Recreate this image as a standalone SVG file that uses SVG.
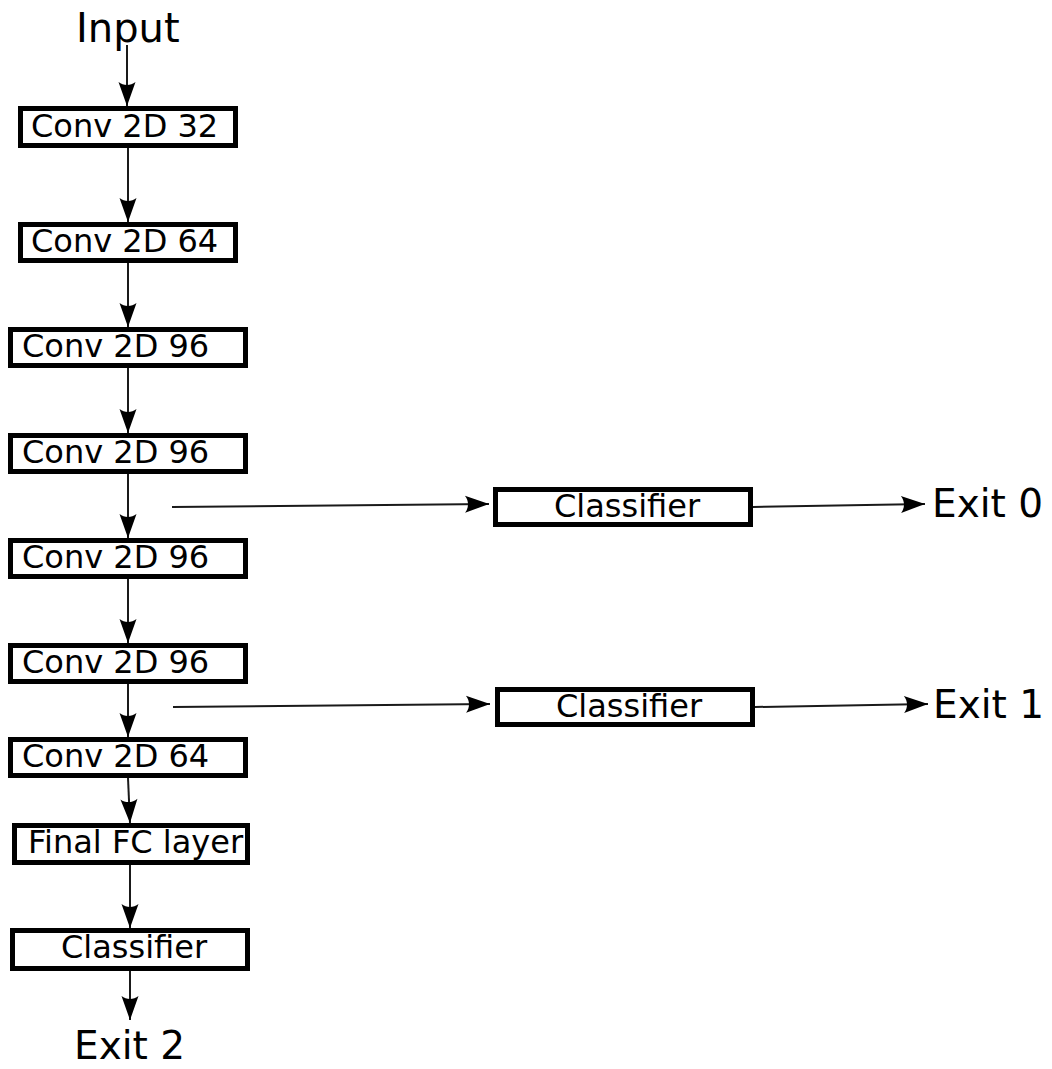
<svg xmlns="http://www.w3.org/2000/svg" width="1052" height="1069" viewBox="0 0 1052 1069">
  <style>
    .box { fill: #ffffff; stroke: #000000; stroke-width: 5; }
    .lbl { font-family: "DejaVu Sans", "Liberation Sans", sans-serif; font-size: 32px; fill: #000000; }
    .big { font-family: "DejaVu Sans", "Liberation Sans", sans-serif; font-size: 39px; fill: #000000; }
    .wire { fill: none; stroke: #1a1a1a; stroke-width: 2; marker-end: url(#head); }
  </style>
  <defs>
    <marker id="head" markerUnits="userSpaceOnUse" markerWidth="30" markerHeight="20" refX="0" refY="0" viewBox="-26 -10 28 20" orient="auto" overflow="visible">
      <path d="M0,0 L-24,-8.5 C-20,-3.5 -20,3.5 -24,8.5 Z" fill="#000000"/>
    </marker>
  </defs>

  <!-- terminal labels -->
  <text class="big" x="76" y="42" style="font-size:40px">Input</text>
  <text class="big" x="74" y="1059">Exit 2</text>
  <text class="big" x="932" y="517">Exit 0</text>
  <text class="big" x="933" y="718">Exit 1</text>

  <!-- layer stack -->
  <g id="conv1"><rect class="box" x="20.5" y="108.5" width="215" height="37"/><text class="lbl" x="31" y="137">Conv 2D 32</text></g>
  <g id="conv2"><rect class="box" x="20.5" y="224.5" width="215" height="36"/><text class="lbl" x="31" y="252">Conv 2D 64</text></g>
  <g id="conv3"><rect class="box" x="10.5" y="329.5" width="235" height="36"/><text class="lbl" x="22" y="357">Conv 2D 96</text></g>
  <g id="conv4"><rect class="box" x="10.5" y="435.5" width="235" height="36"/><text class="lbl" x="22" y="463">Conv 2D 96</text></g>
  <g id="conv5"><rect class="box" x="10.5" y="540.5" width="235" height="36"/><text class="lbl" x="22" y="568">Conv 2D 96</text></g>
  <g id="conv6"><rect class="box" x="10.5" y="645.5" width="235" height="36"/><text class="lbl" x="22" y="673">Conv 2D 96</text></g>
  <g id="conv7"><rect class="box" x="10.5" y="739.5" width="235" height="36"/><text class="lbl" x="22" y="767">Conv 2D 64</text></g>
  <g id="fc"><rect class="box" x="14.5" y="825.5" width="233" height="37"/><text class="lbl" x="28" y="853">Final FC layer</text></g>
  <g id="classifier2"><rect class="box" x="12.5" y="930.5" width="235" height="38"/><text class="lbl" x="61" y="958">Classifier</text></g>

  <!-- early-exit branches -->
  <g id="classifier0"><rect class="box" x="495.5" y="489.5" width="255" height="35"/><text class="lbl" x="554" y="517">Classifier</text></g>
  <g id="classifier1"><rect class="box" x="497.5" y="689.5" width="255" height="35"/><text class="lbl" x="556" y="717">Classifier</text></g>

  <g id="connectors">
    <line class="wire" x1="127" y1="45" x2="127" y2="106"/>
    <line class="wire" x1="128" y1="148" x2="128" y2="222"/>
    <line class="wire" x1="128" y1="263" x2="128" y2="327"/>
    <line class="wire" x1="128" y1="368" x2="128" y2="433"/>
    <line class="wire" x1="128" y1="474" x2="128" y2="538"/>
    <line class="wire" x1="128" y1="579" x2="128" y2="643"/>
    <line class="wire" x1="128" y1="684" x2="128" y2="737"/>
    <line class="wire" x1="128" y1="778" x2="130" y2="823"/>
    <line class="wire" x1="130" y1="865" x2="130" y2="928"/>
    <line class="wire" x1="130" y1="971" x2="130" y2="1020"/>
    <line class="wire" x1="172" y1="507" x2="489" y2="504"/>
    <line class="wire" x1="753" y1="507" x2="925" y2="504"/>
    <line class="wire" x1="173" y1="707" x2="490" y2="704"/>
    <line class="wire" x1="755" y1="707" x2="928" y2="704"/>
  </g>
</svg>
